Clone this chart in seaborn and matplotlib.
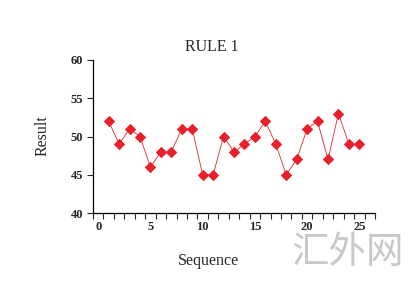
import matplotlib
matplotlib.use("Agg")
import matplotlib.pyplot as plt
import seaborn as sns
import pandas as pd
import numpy as np
from matplotlib.ticker import FixedLocator

sequence = list(range(1, 26))
results = [52, 49, 51, 50, 46, 48, 48, 51, 51, 45, 45, 50, 48, 49, 50,
           52, 49, 45, 47, 51, 52, 47, 53, 49, 49]
x_ticks = [0, 5, 10, 15, 20, 25]
y_ticks = [40, 45, 50, 55, 60]

df = pd.DataFrame({"Sequence": sequence, "Result": results})

sns.set_style("ticks")
plt.rcParams['font.family'] = ['Liberation Serif', 'DejaVu Serif']

fig = plt.figure(figsize=(4.19, 2.81), dpi=100)
ax = fig.add_axes([93/419, 1-213/281, (375-93)/419, (213-60)/281])

sns.lineplot(data=df, x="Sequence", y="Result", ax=ax, color="#e8202a",
             linewidth=0.6, marker="D", markersize=5,
             markeredgecolor="#e8202a", markerfacecolor="#e8202a")

ax.set_xlim(-0.5, 26.5)
ax.set_ylim(40, 60)
ax.xaxis.set_major_locator(FixedLocator(x_ticks))
ax.xaxis.set_minor_locator(FixedLocator(np.arange(-0.5, 27, 1.0)))
ax.set_yticks(y_ticks)
ax.tick_params(axis='x', which='major', length=0, pad=6)
ax.tick_params(axis='x', which='minor', length=4, width=0.8, direction='out')
ax.tick_params(axis='y', which='major', length=4, width=0.8, direction='out', pad=3)
for lab in ax.get_xticklabels() + ax.get_yticklabels():
    lab.set_fontweight('bold')
    lab.set_fontsize(9)
sns.despine(ax=ax)
for s in ["left", "bottom"]:
    ax.spines[s].set_linewidth(0.9)
    ax.spines[s].set_color("black")
ax.set_xlabel("")
ax.set_ylabel("")

fig.text(212/419, 1-47/281, "RULE 1", ha='center', va='center', fontsize=11.5)
fig.text(208/419, 1-261/281, "Sequence", ha='center', va='center', fontsize=11.5)
fig.text(43/419, 1-136/281, "Result", ha='center', va='center', fontsize=11.5, rotation=90)
fig.text(348/419, 1-252/281, "汇外网", ha='center', va='center', fontsize=27,
         color="#c8c8c8", family=['Noto Sans CJK SC', 'DejaVu Sans'], fontweight='light')

fig.savefig("out.png", dpi=100)
